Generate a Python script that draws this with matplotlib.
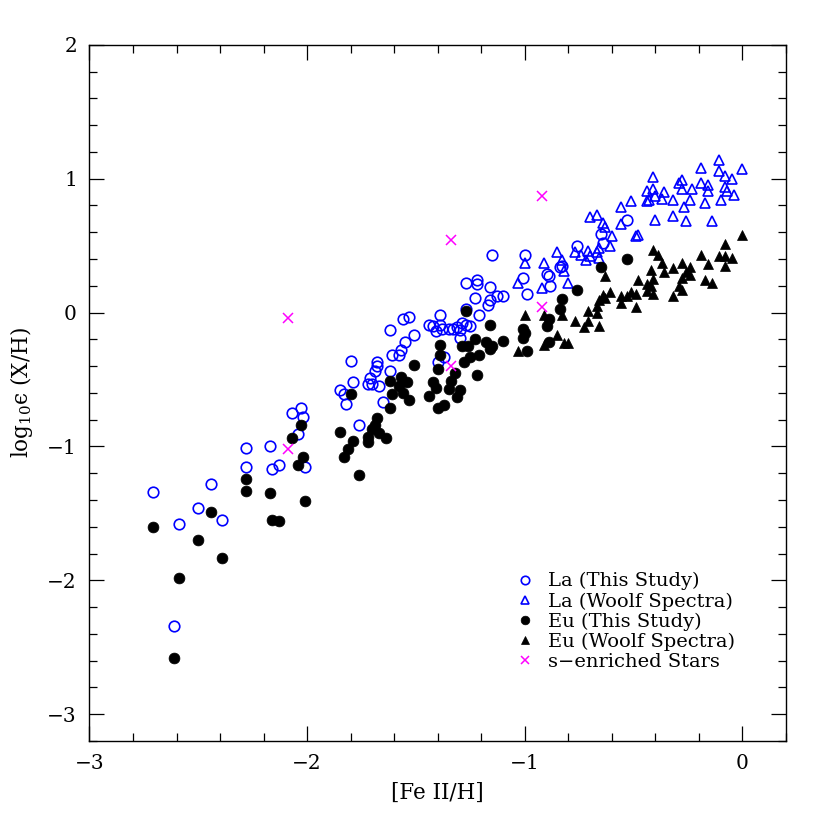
import matplotlib
matplotlib.use("Agg")
import matplotlib.pyplot as plt
from matplotlib.ticker import MultipleLocator

# ---------------- data ----------------
la_this_x = [-2.71, -2.59, -2.50, -2.44, -2.39, -2.28, -2.28, -2.17, -2.16, -2.13,
             -2.07, -2.03, -2.02, -2.04, -2.01, -2.61, -1.85, -1.83, -1.82,
             -1.15, -1.00, -1.01, -0.99, -0.90, -0.89, -0.885, -1.27, -1.22, -1.22,
             -1.16, -1.23, -1.16, -1.17, -1.13, -1.10, -1.27, -1.21, -1.56, -1.53,
             -1.62, -1.51, -1.55, -1.57, -1.58, -1.61, -1.39, -1.44, -1.42, -1.41,
             -1.39, -1.38, -1.35, -1.33, -1.31, -1.30, -1.29, -1.27, -1.25, -1.30,
             -1.37, -1.40, -1.80, -1.68, -1.68, -1.69, -1.79, -1.71, -1.72, -1.70,
             -1.67, -1.62, -1.65, -1.76,
             -0.53, -0.65, -0.64, -0.76, -0.84, -0.83]
la_this_y = [-1.34, -1.58, -1.46, -1.28, -1.55, -1.01, -1.15, -1.00, -1.17, -1.14,
             -0.75, -0.71, -0.78, -0.91, -1.15, -2.34, -0.58, -0.61, -0.68,
             0.43, 0.43, 0.26, 0.14, 0.29, 0.27, 0.20, 0.22, 0.24, 0.21,
             0.19, 0.11, 0.09, 0.06, 0.12, 0.12, 0.03, -0.02, -0.05, -0.03,
             -0.13, -0.17, -0.22, -0.28, -0.32, -0.32, -0.02, -0.09, -0.10, -0.14,
             -0.09, -0.12, -0.12, -0.12, -0.11, -0.13, -0.08, -0.09, -0.10, -0.19,
             -0.33, -0.37, -0.36, -0.37, -0.40, -0.44, -0.52, -0.49, -0.53, -0.53,
             -0.55, -0.44, -0.67, -0.84,
             0.69, 0.59, 0.52, 0.50, 0.34, 0.35]

la_woolf_x = [-0.11, -0.19, 0.00, -0.11, -0.08, -0.05, -0.41, -0.28, -0.29, -0.19,
              -0.16, -0.08, -0.44, -0.41, -0.36, -0.28, -0.23, -0.16, -0.07, -0.40,
              -0.43, -0.44, -0.37, -0.32, -0.24, -0.17, -0.10, -0.04, -0.51, -0.56,
              -0.27, -0.70, -0.67, -0.40, -0.32, -0.26, -0.14, -0.64, -0.63, -0.56,
              -0.60, -0.49, -0.48, -0.61, -0.66, -0.85, -0.77, -0.71, -0.74, -0.70,
              -0.67, -0.66, -0.72, -0.83, -1.00, -0.91, -0.82, -0.80, -1.03, -0.92]
la_woolf_y = [1.14, 1.08, 1.07, 1.06, 1.02, 1.00, 1.01, 0.99, 0.97, 0.97,
              0.95, 0.94, 0.91, 0.92, 0.90, 0.92, 0.92, 0.91, 0.91, 0.87,
              0.84, 0.83, 0.85, 0.84, 0.84, 0.82, 0.84, 0.88, 0.83, 0.79,
              0.79, 0.71, 0.73, 0.69, 0.72, 0.68, 0.68, 0.67, 0.64, 0.66,
              0.57, 0.57, 0.58, 0.50, 0.48, 0.45, 0.45, 0.46, 0.43, 0.42,
              0.45, 0.41, 0.39, 0.39, 0.37, 0.37, 0.31, 0.22, 0.22, 0.18]

eu_this_x = [-2.71, -2.59, -2.50, -2.44, -2.39, -2.28, -2.28, -2.17, -2.16, -2.13,
             -2.07, -2.03, -2.02, -2.04, -2.01, -2.61, -1.85, -1.83,
             -1.27, -1.16, -1.01, -1.00, -1.01, -0.99, -0.90, -1.39, -1.39, -1.23,
             -1.29, -1.26, -1.18, -1.15, -1.10, -1.16, -1.21, -1.25, -1.28, -1.51,
             -1.40, -1.32, -1.22, -1.34, -1.42, -1.41, -1.35, -1.30, -1.31, -1.44,
             -1.40, -1.37, -1.62, -1.57, -1.54, -1.58, -1.61, -1.56, -1.53, -1.62,
             -1.80, -1.68, -1.69, -1.70, -1.67, -1.64, -1.72, -1.72, -1.79, -1.81,
             -1.76,
             -0.53, -0.65, -0.76, -0.83, -0.84, -0.89, -0.89]
eu_this_y = [-1.60, -1.98, -1.70, -1.49, -1.83, -1.24, -1.33, -1.35, -1.55, -1.56,
             -0.94, -0.84, -1.08, -1.14, -1.41, -2.58, -0.89, -1.08,
             0.01, -0.09, -0.12, -0.15, -0.19, -0.29, -0.10, -0.24, -0.32, -0.20,
             -0.25, -0.25, -0.22, -0.25, -0.21, -0.27, -0.32, -0.33, -0.37, -0.39,
             -0.42, -0.45, -0.47, -0.51, -0.52, -0.56, -0.57, -0.58, -0.63, -0.62,
             -0.71, -0.69, -0.51, -0.48, -0.52, -0.55, -0.61, -0.60, -0.65, -0.71,
             -0.61, -0.79, -0.84, -0.87, -0.90, -0.94, -0.93, -0.97, -0.96, -1.02,
             -1.21,
             0.40, 0.34, 0.17, 0.10, 0.03, -0.05, -0.22]

eu_woolf_x = [0.00, -0.08, -0.41, -0.19, -0.11, -0.08, -0.05, -0.39, -0.16, -0.08,
              -0.37, -0.28, -0.24, -0.32, -0.42, -0.36, -0.26, -0.24, -0.28, -0.48,
              -0.41, -0.44, -0.42, -0.17, -0.14, -0.29, -0.28, -0.44, -0.41, -0.51,
              -0.49, -0.32, -0.61, -0.56, -0.64, -0.66, -0.63, -0.67, -0.56, -0.49,
              -0.63, -0.71, -0.67, -0.77, -0.71, -0.73, -0.66, -1.00, -0.85, -0.91,
              -0.82, -0.80, -1.03, -0.91, -0.83, -0.53]
eu_woolf_y = [0.58, 0.51, 0.47, 0.43, 0.42, 0.42, 0.41, 0.43, 0.36, 0.35,
              0.37, 0.37, 0.34, 0.33, 0.32, 0.30, 0.30, 0.28, 0.26, 0.24,
              0.25, 0.21, 0.20, 0.24, 0.22, 0.20, 0.17, 0.16, 0.14, 0.15,
              0.14, 0.12, 0.15, 0.12, 0.13, 0.09, 0.11, 0.05, 0.07, 0.04,
              0.27, 0.01, 0.00, -0.06, -0.06, -0.11, -0.10, -0.02, -0.17, -0.24,
              -0.23, -0.23, -0.29, -0.02, -0.02, 0.12]

s_rich_x = [-1.34, -1.34, -0.92, -0.92, -2.09, -2.09]
s_rich_y = [0.54, -0.40, 0.04, 0.87, -1.02, -0.04]

series_labels = ["La (This Study)", "La (Woolf Spectra)", "Eu (This Study)",
                 "Eu (Woolf Spectra)", "s\u2212enriched Stars"]
x_label = "[Fe II/H]"
y_label = "log$_{10}$\u03f5 (X/H)"

# ---------------- styling ----------------
plt.rcParams["font.family"] = ["DejaVu Serif"]
plt.rcParams["mathtext.fontset"] = "dejavuserif"

blue = "#0000ff"
magenta = "#ff00ff"

fig = plt.figure(figsize=(8.3, 8.3), dpi=100)
ax = fig.add_axes([0.1078, 0.1072, 0.8392, 0.8389])

ax.plot(la_this_x, la_this_y, linestyle="none", marker="o", ms=7.6,
        mfc="none", mec=blue, mew=1.2, label=series_labels[0])
ax.plot(la_woolf_x, la_woolf_y, linestyle="none", marker="^", ms=7.0,
        mfc="none", mec=blue, mew=1.2, label=series_labels[1])
ax.plot(eu_this_x, eu_this_y, linestyle="none", marker="o", ms=7.8,
        mfc="black", mec="black", mew=0.5, label=series_labels[2])
ax.plot(eu_woolf_x, eu_woolf_y, linestyle="none", marker="^", ms=6.5,
        mfc="black", mec="black", mew=0.5, label=series_labels[3])
ax.plot(s_rich_x, s_rich_y, linestyle="none", marker="x", ms=6.5,
        mec=magenta, mew=1.1, label=series_labels[4])

ax.set_xlim(-3.0, 0.2)
ax.set_ylim(-3.2, 2.0)
ax.xaxis.set_major_locator(MultipleLocator(1))
ax.xaxis.set_minor_locator(MultipleLocator(0.2))
ax.yaxis.set_major_locator(MultipleLocator(1))
ax.yaxis.set_minor_locator(MultipleLocator(0.2))
ax.tick_params(which="both", direction="in", top=True, right=True,
               width=0.9, labelsize=14.5, pad=9)
ax.tick_params(which="major", length=10.5)
ax.tick_params(which="minor", length=5.8)
for sp in ax.spines.values():
    sp.set_linewidth(1.0)

ax.set_xlabel(x_label, fontsize=15.5, labelpad=7)
ax.set_ylabel(y_label, fontsize=15.5, labelpad=9)

leg = ax.legend(loc="upper left", bbox_to_anchor=(0.611, 0.2425), frameon=False,
                fontsize=14, handlelength=1.0, handletextpad=0.69,
                labelspacing=0.1, borderpad=0, borderaxespad=0,
                markerscale=0.8)

fig.savefig("out.png", dpi=100)
